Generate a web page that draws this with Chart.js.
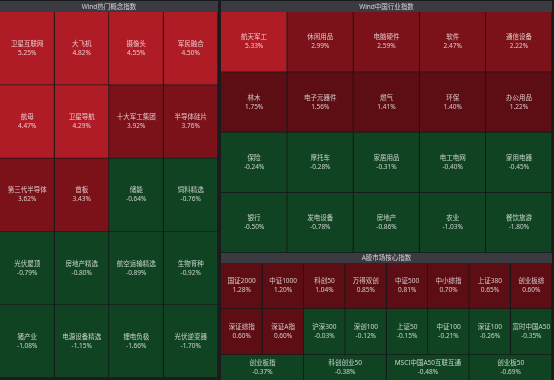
<!DOCTYPE html>
<html><head><meta charset="utf-8">
<script src="https://cdn.jsdelivr.net/npm/chart.js@4/dist/chart.umd.min.js"></script>
<style>
html,body{margin:0;padding:0;background:#1b1b1d;width:554px;height:380px;overflow:hidden;}
.box{position:absolute;overflow:hidden;}
canvas{display:block;}
</style></head><body>
<div class="box" style="left:0;top:1px;width:218px;height:379px"><canvas id="c1" width="218" height="377"></canvas></div>
<div class="box" style="left:221px;top:1px;width:331px;height:252px"><canvas id="c2" width="331" height="252"></canvas></div>
<div class="box" style="left:221px;top:253px;width:331px;height:127px"><canvas id="c3" width="331" height="148"></canvas></div>
<script>
const conceptTitle = 'Wind热门概念指数';
const conceptNames = ['卫星互联网','大飞机','摄像头','军民融合','航母','卫星导航','十大军工集团','半导体硅片','第三代半导体','首板','储能','饲料精选','光伏屋顶','房地产精选','航空运输精选','生物育种','猪产业','电源设备精选','锂电负极','光伏逆变器'];
const conceptValues = [5.25,4.82,4.55,4.50,4.47,4.29,3.92,3.76,3.62,3.43,-0.64,-0.76,-0.79,-0.80,-0.89,-0.92,-1.08,-1.15,-1.66,-1.70];
const conceptSpans = [1,1,1,1,1,1,1,1,1,1,1,1,1,1,1,1,1,1,1,1];

const industryTitle = 'Wind中国行业指数';
const industryNames = ['航天军工','休闲用品','电脑硬件','软件','通信设备','林木','电子元器件','燃气','环保','办公用品','保险','摩托车','家居用品','电工电网','家用电器','银行','发电设备','房地产','农业','餐饮旅游'];
const industryValues = [5.33,2.99,2.59,2.47,2.22,1.75,1.56,1.41,1.40,1.22,-0.24,-0.28,-0.31,-0.40,-0.45,-0.50,-0.78,-0.86,-1.03,-1.80];
const industrySpans = [1,1,1,1,1,1,1,1,1,1,1,1,1,1,1,1,1,1,1,1];

const marketTitle = 'A股市场核心指数';
const marketNames = ['国证2000','中证1000','科创50','万得双创','中证500','中小综指','上证380','创业板综','深证综指','深证A指','沪深300','深创100','上证50','中证100','深证100','富时中国A50','创业板指','科创创业50','MSCI中国A50互联互通','创业板50'];
const marketValues = [1.28,1.20,1.04,0.85,0.81,0.70,0.65,0.60,0.60,0.60,-0.03,-0.12,-0.15,-0.21,-0.26,-0.35,-0.37,-0.38,-0.48,-0.69];
const marketSpans = [1,1,1,1,1,1,1,1,1,1,1,1,1,1,1,1,2,2,2,2];

const FONT = '"Noto Sans", "Noto Sans CJK SC", sans-serif';

function colorFor(v){
  if (v >= 4) return '#b01c26';
  if (v >= 2) return '#7c1219';
  if (v >= 0) return '#5d0e14';
  return '#0f4321';
}

const headerBg = {
  id: 'headerBg',
  beforeDraw(chart){
    const c = chart.ctx;
    c.save();
    c.fillStyle = '#3a3a40';
    c.fillRect(0, 0, chart.width, chart.chartArea.top);
    c.restore();
  }
};

const cellLabels = {
  id: 'cellLabels',
  afterDatasetsDraw(chart){
    const c = chart.ctx;
    const visBottom = chart.canvas.parentNode.clientHeight;
    c.save();
    c.textAlign = 'center';
    c.textBaseline = 'middle';
    c.font = '6.5px ' + FONT;
    c.fillStyle = 'rgba(255,255,255,0.75)';
    chart.data.datasets.forEach((ds, d) => {
      const meta = chart.getDatasetMeta(d);
      meta.data.forEach((el, i) => {
        const idx = ds.cellIndex[i];
        if (idx === undefined) return;
        const p = el.getProps(['x','base','y','height'], true);
        const cx = (p.x + p.base) / 2;
        const top = p.y - p.height / 2;
        const bottom = Math.min(p.y + p.height / 2, visBottom);
        const cy = (top + bottom) / 2;
        c.fillText(ds.names[idx], cx, cy - 4.5);
        c.fillText(ds.values[idx].toFixed(2) + '%', cx, cy + 4.5);
      });
    });
    c.restore();
  }
};

function makeGrid(id, title, names, values, spans, cols, pad){
  const rows = [];
  let cur = [], used = 0;
  spans.forEach((s, i) => {
    cur.push(i); used += s;
    if (used >= cols){ rows.push(cur); cur = []; used = 0; }
  });
  if (cur.length) rows.push(cur);
  const nSlots = Math.max(...rows.map(r => r.length));
  const datasets = [];
  for (let s = 0; s < nSlots; s++){
    const cellIndex = rows.map(r => r[s]);
    datasets.push({
      label: 'slot' + s,
      data: rows.map(r => r[s] !== undefined ? spans[r[s]] : 0),
      cellIndex, names, values,
      backgroundColor: ctx => {
        const k = cellIndex[ctx.dataIndex];
        return k === undefined ? 'transparent' : colorFor(values[k]);
      }
    });
  }
  return new Chart(document.getElementById(id), {
    type: 'bar',
    data: { labels: rows.map((_, i) => 'row' + (i + 1)), datasets },
    options: {
      indexAxis: 'y',
      responsive: false,
      animation: false,
      devicePixelRatio: 1,
      layout: { padding: 0 },
      scales: {
        x: { type: 'linear', stacked: true, min: 0, max: cols, display: false },
        y: { stacked: true, display: false }
      },
      datasets: {
        bar: {
          categoryPercentage: 1,
          barPercentage: 1,
          borderWidth: { top: 0, left: 0, right: 1, bottom: 1 },
          borderColor: '#17181a',
          borderSkipped: false
        }
      },
      plugins: {
        legend: { display: false },
        tooltip: { enabled: false },
        title: {
          display: true, text: title, color: '#d4d4d8',
          font: { family: FONT, size: 6.5, weight: 'normal', lineHeight: 1 },
          padding: pad
        }
      }
    },
    plugins: [headerBg, cellLabels]
  });
}

makeGrid('c1', conceptTitle, conceptNames, conceptValues, conceptSpans, 4, { top: 2.5, bottom: 2 });
makeGrid('c2', industryTitle, industryNames, industryValues, industrySpans, 5, { top: 2.5, bottom: 2 });
makeGrid('c3', marketTitle, marketNames, marketValues, marketSpans, 8, { top: 2, bottom: 1.5 });
</script>
</body></html>
